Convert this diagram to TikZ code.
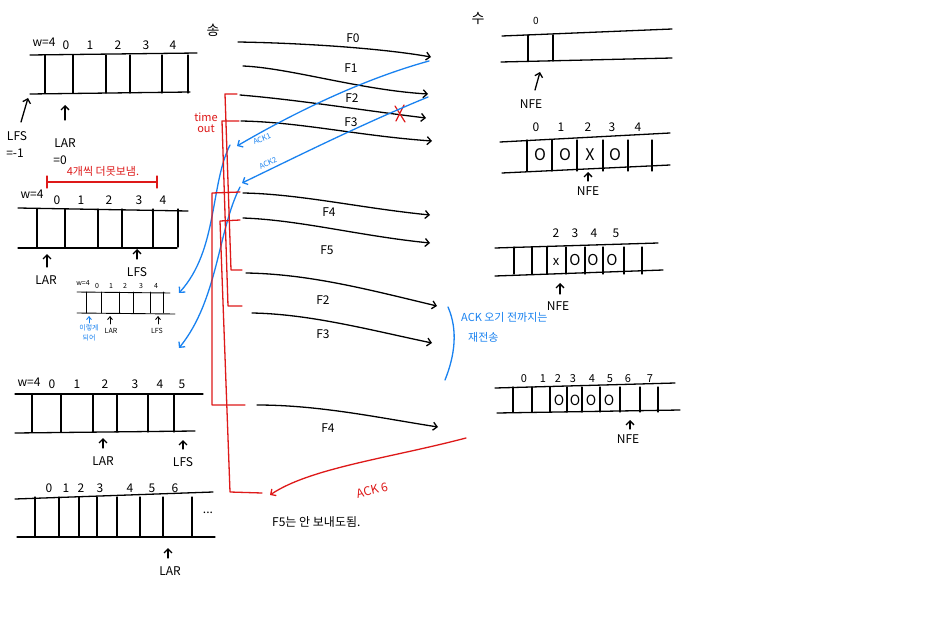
\documentclass[tikz,border=0pt]{standalone}
\usepackage{fontspec}
\setmainfont{Noto Sans CJK KR}
\usetikzlibrary{arrows.meta}
\definecolor{pblue}{RGB}{25,130,240}
\definecolor{pred}{RGB}{222,25,25}
\begin{document}
\begin{tikzpicture}[x=1pt,y=-1pt,line cap=round,line join=round,
  ink/.style={line width=1.3pt},
  arr/.style={ink,-{Straight Barb[length=4pt,width=8pt]}},
  thinarr/.style={line width=0.9pt,-{Straight Barb[length=3pt,width=5pt]}},
  lab/.style={font=\fontsize{12}{12}\selectfont,inner sep=0pt},
  big/.style={font=\fontsize{14}{14}\selectfont,inner sep=0pt},
  small/.style={font=\fontsize{7}{7}\selectfont,inner sep=0pt},
  rl/.style={pred,font=\fontsize{11}{11}\selectfont,inner sep=0pt},
  bl/.style={pblue,font=\fontsize{11}{11}\selectfont,inner sep=0pt}]
\useasboundingbox (0,0) rectangle (925,623);
\fill[white] (0,0) rectangle (925,623);

% ---------- sender window 1 ----------
\draw[ink] (30,55) -- (197,53);
\draw[ink] (30,94) -- (190,92);
\foreach \x in {45,73,106,130,162,188} \draw[ink] (\x,55) -- (\x,93);
\node[lab] (s1w) at (44,42) {w=4};
\foreach \x/\t in {66/0,90/1,118/2,146/3,173/4} \node[lab] at (\x,45) {\t};
\coordinate (s1a) at (21,122); \coordinate (s1b) at (28,98);
\draw[arr] (s1a) -- (s1b);
\node[lab] (s1lfs) at (17,136) {LFS};
\node[lab] at (15,153) {=-1};
\coordinate (s1c) at (65,120); \coordinate (s1d) at (65,105);
\draw[arr] (s1c) -- (s1d);
\node[lab] (s1lar) at (65,143) {LAR};
\node[lab] at (60,160) {=0};

% ---------- sender window 2 ----------
\draw[pred,ink] (47,176) -- (47,188) (47,182) -- (157,182) (157,176) -- (157,188);
\node[rl] at (103,171) {4개씩 더못보냄.};
\draw[ink] (18,208) -- (188,211);
\draw[ink] (18,248) -- (177,248);
\foreach \x in {37,65,98,122,153,178} \draw[ink] (\x,209) -- (\x,247);
\node[lab] at (32,194) {w=4};
\foreach \x/\t in {57/0,81/1,109/2,139/3,163/4} \node[lab] at (\x,200) {\t};
\coordinate (s2a) at (47,267); \coordinate (s2b) at (47,254);
\draw[arr] (s2a) -- (s2b);
\node[lab] at (46,280) {LAR};
\coordinate (s2c) at (137,259); \coordinate (s2d) at (137,249);
\draw[arr] (s2c) -- (s2d);
\node[lab] at (137,272) {LFS};

% small window
\draw[line width=0.9pt] (77,292) -- (170,293);
\draw[line width=0.9pt] (77,313) -- (175,314);
\foreach \x in {86,101,119,133,150,163} \draw[line width=0.9pt] (\x,292) -- (\x,313);
\node[small] at (83,283) {w=4};
\foreach \x/\t in {97/0,111/1,125/2,141/3,156/4} \node[small] at (\x,286) {\t};
\draw[thinarr,pblue] (89,323) -- (89,316);
\draw[thinarr] (110,324) -- (110,316);
\draw[thinarr] (158,324) -- (158,316);
\node[small,pblue] at (89,328) {이렇게};
\node[small,pblue] at (89,338) {되어};
\node[small] at (111,331) {LAR};
\node[small] at (157,331) {LFS};

% ---------- sender window 3 ----------
\draw[ink] (15,394) -- (203,394);
\draw[ink] (15,433) -- (195,431);
\foreach \x in {32,61,93,117,148,174} \draw[ink] (\x,395) -- (\x,432);
\node[lab] at (29,382) {w=4};
\foreach \x/\t in {52/0,77/1,105/2,135/3,160/4,182/5} \node[lab] at (\x,384) {\t};
\coordinate (s3a) at (103,448); \coordinate (s3b) at (103,438);
\draw[arr] (s3a) -- (s3b);
\node[lab] at (103,461) {LAR};
\coordinate (s3c) at (183,449); \coordinate (s3d) at (183,440);
\draw[arr] (s3c) -- (s3d);
\node[lab] at (183,462) {LFS};

% ---------- sender window 4 ----------
\draw[ink] (15,499) -- (213,492);
\draw[ink] (17,537) -- (215,537);
\foreach \x in {35,59,79,97,117,140,163,192} \draw[ink] (\x,497) -- (\x,537);
\foreach \x/\t in {49/0,66/1,81/2,100/3,130/4,152/5,175/6} \node[lab] at (\x,488) {\t};
\node[lab] at (208,513) {...};
\coordinate (s4a) at (168,558); \coordinate (s4b) at (168,548);
\draw[arr] (s4a) -- (s4b);
\node[lab] at (170,571) {LAR};

% ---------- sender / receiver labels ----------
\node[big] (snd) at (213,30) {송};
\node[big] (rcv) at (478,18) {수};

% ---------- frames ----------
\coordinate (f0a) at (238,42);  \coordinate (f0b) at (431,57);
\coordinate (f1a) at (243,66);  \coordinate (f1b) at (428,94);
\coordinate (f2a) at (240,95);  \coordinate (f2b) at (426,118);
\coordinate (f3a) at (241,121); \coordinate (f3b) at (432,141);
\draw[arr] (f0a) .. controls (300,43) and (380,48) .. (f0b);
\draw[arr] (f1a) .. controls (290,68) and (360,90) .. (f1b);
\draw[arr] (f2a) .. controls (300,100) and (360,110) .. (f2b);
\draw[arr] (f3a) .. controls (300,122) and (360,136) .. (f3b);
\node[lab] at (353,38) {F0};
\node[lab] at (351,68) {F1};
\node[lab] at (352,98) {F2};
\node[lab] at (351,122) {F3};
\draw[pred,line width=1.2pt] (395,106) -- (405,122) (404,105) -- (396,121);

\coordinate (f4a) at (243,193);  \coordinate (f4b) at (430,215);
\coordinate (f5a) at (243,218);  \coordinate (f5b) at (430,243);
\coordinate (r2a) at (246,273);  \coordinate (r2b) at (437,306);
\coordinate (r3a) at (252,313);  \coordinate (r3b) at (432,343);
\coordinate (r4a) at (257,405);  \coordinate (r4b) at (438,427);
\draw[arr] (f4a) .. controls (300,194) and (360,208) .. (f4b);
\draw[arr] (f5a) .. controls (300,220) and (360,236) .. (f5b);
\draw[arr] (r2a) .. controls (310,274) and (370,290) .. (r2b);
\draw[arr] (r3a) .. controls (310,314) and (370,330) .. (r3b);
\draw[arr] (r4a) .. controls (320,405) and (380,418) .. (r4b);
\node[lab] at (329,212) {F4};
\node[lab] at (327,250) {F5};
\node[lab] at (323,300) {F2};
\node[lab] at (323,334) {F3};
\node[lab] at (328,428) {F4};

% ---------- ACKs ----------
\coordinate (a1a) at (429,61);  \coordinate (a1b) at (237,146);
\coordinate (a2a) at (428,97);  \coordinate (a2b) at (242,183);
\draw[arr,pblue] (a1a) .. controls (360,80) and (290,115) .. (a1b);
\draw[arr,pblue] (a2a) .. controls (360,125) and (300,155) .. (a2b);
\node[bl,font=\fontsize{7.5}{7.5}\selectfont,rotate=22] at (262,139) {ACK1};
\node[bl,font=\fontsize{7.5}{7.5}\selectfont,rotate=24] at (268,163) {ACK2};
\coordinate (b1a) at (230,145); \coordinate (b1b) at (179,293);
\coordinate (b2a) at (240,187); \coordinate (b2b) at (179,348);
\draw[arr,pblue] (b1a) .. controls (210,185) and (218,250) .. (b1b);
\draw[arr,pblue] (b2a) .. controls (218,230) and (218,300) .. (b2b);

% blue bracket and note
\draw[ink,pblue] (448,307) .. controls (458,330) and (455,355) .. (445,380);
\node[bl,anchor=west] at (461,317) {ACK 오기 전까지는};
\node[bl,anchor=west] at (468,337) {재전송};

% ---------- timeouts ----------
\draw[ink,pred] (237,94) -- (225,94) -- (231,270) -- (242,270);
\draw[ink,pred] (239,121) -- (222,121) -- (228,306) -- (242,306);
\draw[ink,pred] (240,192) -- (212,193) -- (212,405) -- (245,405);
\draw[ink,pred] (240,220) -- (220,221) -- (230,492) -- (262,493);
\node[rl] at (206,117) {time};
\node[rl] at (206,129) {out};

\coordinate (a6a) at (466,438); \coordinate (a6b) at (270,495);
\draw[arr,pred] (a6a) .. controls (390,458) and (310,468) .. (a6b);
\node[rl,font=\fontsize{12}{12}\selectfont,rotate=14] at (372,490) {ACK 6};
\node[lab,anchor=west] at (272,522) {F5는 안 보내도됨.};

% ---------- receiver window 1 ----------
\draw[ink] (502,36) -- (672,29);
\draw[ink] (501,62) -- (672,58);
\foreach \x in {528,553} \draw[ink] (\x,35) -- (\x,61);
\node[lab,font=\fontsize{10}{10}\selectfont] at (536,21) {0};
\coordinate (q1a) at (535,90); \coordinate (q1b) at (540,72);
\draw[arr] (q1a) -- (q1b);
\node[lab] at (531,104) {NFE};

% ---------- receiver window 2 ----------
\draw[ink] (500,142) -- (670,133);
\draw[ink] (502,173) -- (670,165);
\foreach \x in {527,552,577,603,628,652} \draw[ink] (\x,140) -- (\x,171);
\foreach \x/\t in {536/0,561/1,588/2,612/3,638/4} \node[lab] at (\x,127) {\t};
\foreach \x/\t in {540/O,565/O,590/X,615/O} \node[lab,font=\fontsize{16}{16}\selectfont] at (\x,155) {\t};
\coordinate (q2a) at (588,181); \coordinate (q2b) at (588,172);
\draw[arr] (q2a) -- (q2b);
\node[lab] at (588,191) {NFE};

% ---------- receiver window 3 ----------
\draw[ink] (495,248) -- (658,243);
\draw[ink] (495,276) -- (663,270);
\foreach \x in {514,532,547,566,585,603,624,642} \draw[ink] (\x,247) -- (\x,274);
\foreach \x/\t in {556/2,575/3,594/4,616/5} \node[lab] at (\x,233) {\t};
\node[lab,font=\fontsize{13}{13}\selectfont] at (556,262) {x};
\foreach \x in {575,593,612} \node[lab,font=\fontsize{15}{15}\selectfont] at (\x,260) {O};
\coordinate (q3a) at (560,294); \coordinate (q3b) at (560,283);
\draw[arr] (q3a) -- (q3b);
\node[lab] at (558,306) {NFE};

% ---------- receiver window 4 ----------
\draw[ink] (495,388) -- (675,383);
\draw[ink] (497,413) -- (680,410);
\foreach \x in {513,532,550,567,582,600,620,640,658} \draw[ink] (\x,387) -- (\x,412);
\foreach \x/\t in {524/0,543/1,558/2,573/3,592/4,610/5,628/6,650/7} \node[lab,font=\fontsize{11}{11}\selectfont] at (\x,379) {\t};
\foreach \x in {559,575,591,609} \node[lab,font=\fontsize{14}{14}\selectfont] at (\x,400) {O};
\coordinate (q4a) at (630,429); \coordinate (q4b) at (630,420);
\draw[arr] (q4a) -- (q4b);
\node[lab] at (628,439) {NFE};
\end{tikzpicture}
\end{document}
